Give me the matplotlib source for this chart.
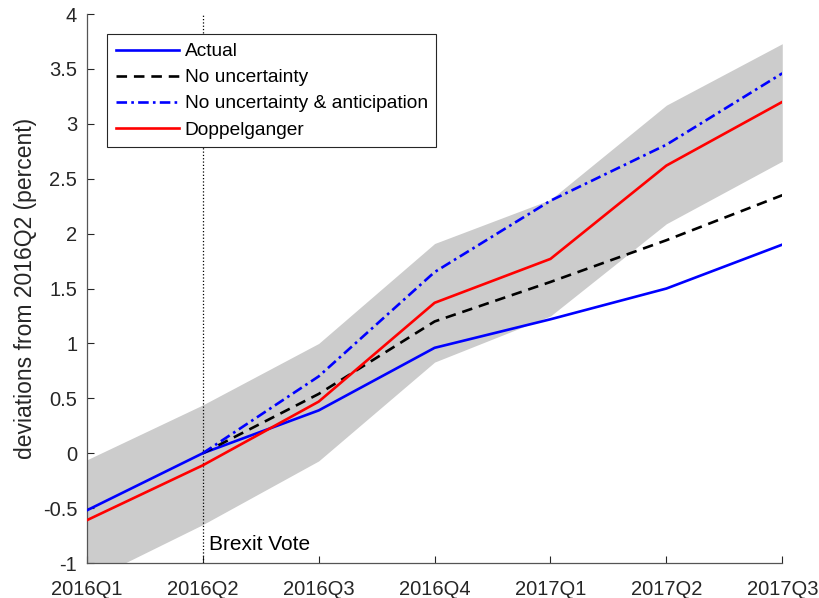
import matplotlib.pyplot as plt
import numpy as np

plt.rcParams['font.family'] = ['Liberation Sans', 'DejaVu Sans']

# quarters on the x axis
quarters = ['2016Q1', '2016Q2', '2016Q3', '2016Q4', '2017Q1', '2017Q2', '2017Q3']

# confidence band (grey)
band_lo = [-1.17, -0.65, -0.07, 0.83, 1.25, 2.09, 2.66]
band_hi = [-0.06, 0.44, 1.00, 1.91, 2.31, 3.17, 3.73]

# series
actual = [-0.52, 0.00, 0.39, 0.96, 1.22, 1.50, 1.90]
no_unc = [np.nan, 0.00, 0.54, 1.20, 1.56, 1.94, 2.35]
no_unc_ant = [np.nan, 0.00, 0.70, 1.65, 2.30, 2.81, 3.46]
doppel = [-0.61, -0.11, 0.47, 1.37, 1.77, 2.62, 3.20]

x = np.arange(len(quarters))

fig = plt.figure(figsize=(8.2, 5.98), dpi=100)
ax = fig.add_axes([0.106, 0.0585, 0.848, 0.918])

ax.fill_between(x, band_lo, band_hi, color='#cccccc', linewidth=0, zorder=1)
ax.axvline(1, color='black', linestyle=':', linewidth=0.9, zorder=2)

lw = 1.9
ax.plot(x, actual, color='blue', lw=lw, label='Actual', zorder=3)
ax.plot(x, no_unc, color='black', lw=lw, ls=(0, (4, 2.6)), label='No uncertainty', zorder=3)
ax.plot(x, no_unc_ant, color='blue', lw=lw, ls=(0, (4, 1.6, 1.0, 1.6)),
        label='No uncertainty & anticipation', zorder=3)
ax.plot(x, doppel, color='red', lw=lw, label='Doppelganger', zorder=4)

ax.text(1.055, -0.83, 'Brexit Vote', fontsize=15, va='center', ha='left')

ax.set_xlim(0, 6)
ax.set_ylim(-1, 4)
ax.set_xticks(x)
ax.set_xticklabels(quarters)
ax.set_yticks(np.arange(-1, 4.01, 0.5))
ax.set_yticklabels(['-1', '-0.5', '0', '0.5', '1', '1.5', '2', '2.5', '3', '3.5', '4'])
ax.tick_params(direction='in', labelsize=14.5, colors='#262626', length=5)
ax.tick_params(axis='x', pad=12)
ax.tick_params(axis='y', pad=7)
ax.spines['top'].set_visible(False)
ax.spines['right'].set_visible(False)
for s in ['left', 'bottom']:
    ax.spines[s].set_color('#555555')
    ax.spines[s].set_linewidth(0.9)
ax.set_ylabel('deviations from 2016Q2 (percent)', fontsize=16.5, color='#262626', labelpad=4)

leg = ax.legend(loc='upper left', bbox_to_anchor=(0.029, 0.963), fontsize=13.8,
                fancybox=False, framealpha=1, edgecolor='#262626', handlelength=3.3,
                borderaxespad=0, labelspacing=0.45, borderpad=0.45, handletextpad=0.3)
leg.get_frame().set_linewidth(0.8)

fig.savefig('out.png', dpi=100)
